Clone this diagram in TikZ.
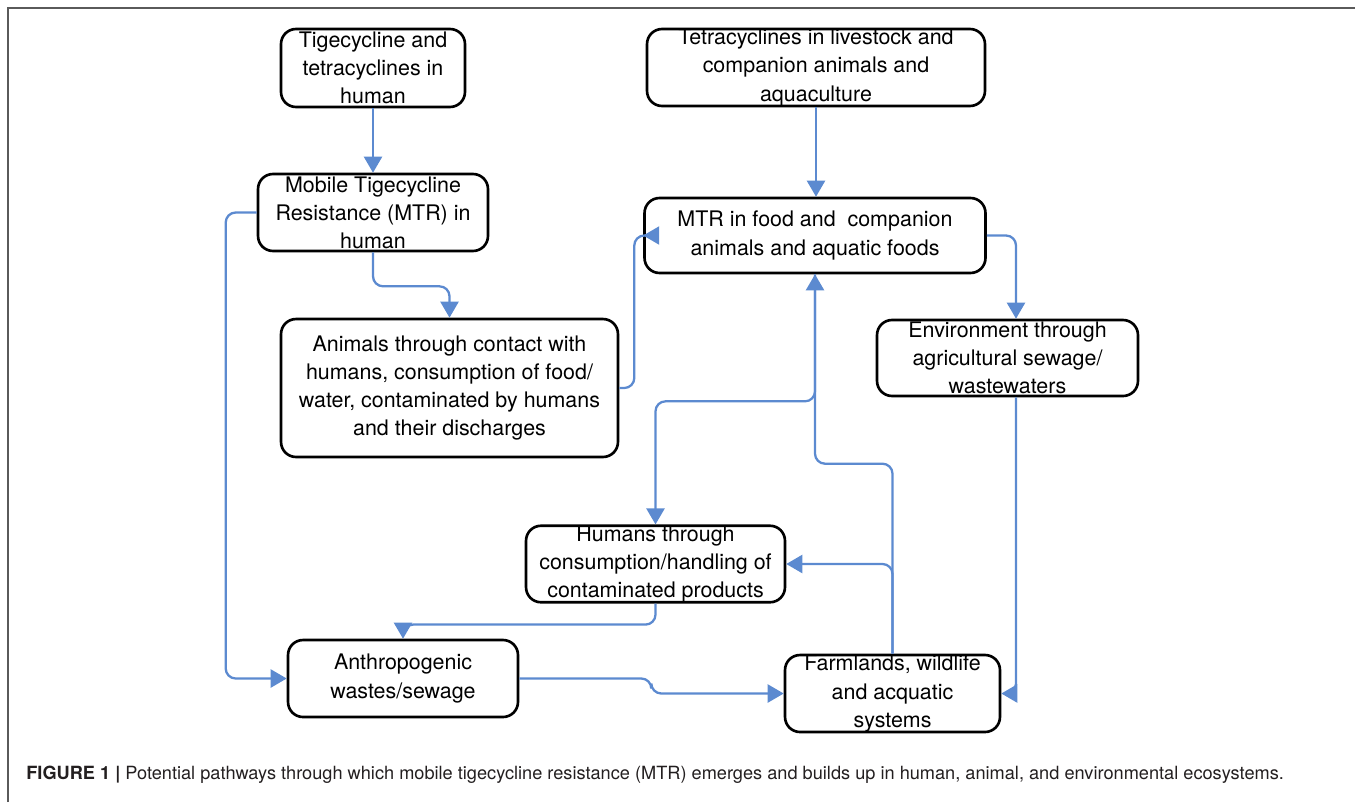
\documentclass[tikz,border=0pt]{standalone}
\usepackage{fontspec}
\setmainfont{TeX Gyre Heros}
\usepackage{tikz}
\usetikzlibrary{arrows.meta}

\definecolor{flowblue}{RGB}{92,138,208}
\definecolor{framegray}{RGB}{90,90,90}
\definecolor{captext}{RGB}{35,31,32}

\begin{document}
\begin{tikzpicture}[x=0.02cm,y=-0.02cm,
  box/.style={draw,line width=1.5pt,rounded corners=0.3cm,align=center,inner sep=0pt,
    font=\fontsize{12.2}{16}\selectfont},
  flow/.style={draw=flowblue,line width=1.3pt,rounded corners=0.2cm,
    -{Triangle[length=0.32cm,width=0.36cm]},color=flowblue}]
\useasboundingbox (0,0) rectangle (1355,802);
\draw[framegray,line width=1pt] (8,802) -- (8,8) -- (1355,8);

\node[box,minimum width=3.68cm,minimum height=1.56cm] (tige) at (373,68)
  {Tigecycline and\\tetracyclines in\\human};
\node[box,minimum width=6.76cm,minimum height=1.54cm] (tetra) at (816,67.5)
  {Tetracyclines in livestock and\\companion animals and\\aquaculture};
\node[box,minimum width=4.6cm,minimum height=1.54cm] (mtrh) at (373,212.5)
  {Mobile Tigecycline\\Resistance (MTR) in\\human};
\node[box,minimum width=6.82cm,minimum height=1.5cm] (mtrf) at (815,235.5)
  {MTR in food and~ companion\\animals and aquatic foods};
\node[box,minimum width=6.74cm,minimum height=2.76cm] (animals) at (449.5,388)
  {Animals through contact with\\humans, consumption of food/\\water, contaminated by humans\\and their discharges};
\node[box,minimum width=5.22cm,minimum height=1.52cm] (env) at (1007.5,358)
  {Environment through\\agricultural sewage/\\wastewaters};
\node[box,minimum width=5.18cm,minimum height=1.52cm] (humans) at (655.5,564)
  {Humans through\\consumption/handling of\\contaminated products};
\node[box,minimum width=4.6cm,minimum height=1.54cm] (anthro) at (403,678.5)
  {Anthropogenic\\wastes/sewage};
\node[box,minimum width=4.3cm,minimum height=1.54cm] (farm) at (892.5,693.5)
  {Farmlands, wildlife\\and acquatic\\systems};

\draw[flow] (tige) -- (mtrh);
\draw[flow] (tetra) -- (tetra |- mtrf.north);
\draw[flow] (mtrh.south) -- ++(0,34) -| (animals.north);
\draw[flow] (mtrh.west) -- ++(-31,0) |- (anthro.west);
\draw[flow] (animals.east) -- ++(15,0) |- (mtrf.west);
\draw[flow] (mtrf.east) -| ([xshift=0.17cm]env.north);
\draw[flow] ([xshift=0.17cm]env.south) |- (farm.east);
\draw[flow] (farm.north) -- ++(0,-190) -| (mtrf.south);
\draw[flow] (farm.north) |- (humans.east);
\draw[flow] (mtrf.south) -- ++(0,127) -| (humans.north);
\draw[flow] (humans.south) -- ++(0,21) -| (anthro.north);
\draw[flow] (anthro.east) -- ++(132,0) |- (farm.west);

\node[anchor=base west,inner sep=0pt,text=captext,font=\fontsize{10.35}{12}\selectfont] (caption) at (26,779)
  {\textbf{FIGURE 1 |} Potential pathways through which mobile tigecycline resistance (MTR) emerges and builds up in human, animal, and environmental ecosystems.};
\end{tikzpicture}
\end{document}
